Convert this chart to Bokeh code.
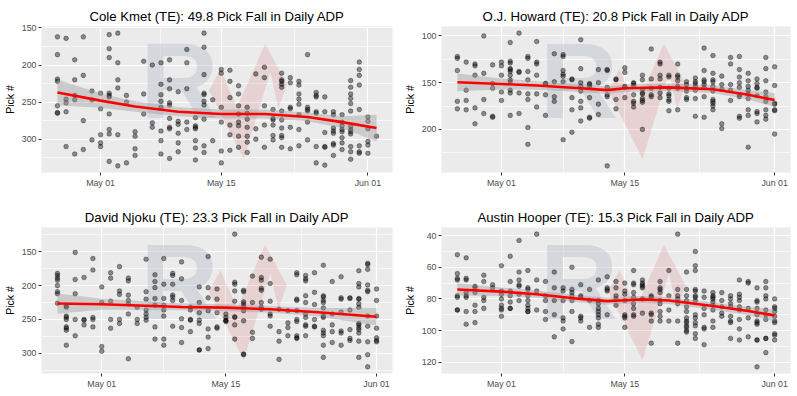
import datetime as dt
from bokeh.plotting import figure
from bokeh.models import Range1d, FixedTicker, DatetimeTickFormatter
from bokeh.layouts import gridplot
from bokeh.core.properties import value
from bokeh.embed import file_html
from bokeh.resources import INLINE

# ---------------- data ----------------
DATES = ["2020-04-26", "2020-04-27", "2020-04-28", "2020-04-29", "2020-04-30",
         "2020-05-01", "2020-05-02", "2020-05-03", "2020-05-04", "2020-05-05",
         "2020-05-06", "2020-05-07", "2020-05-08", "2020-05-09", "2020-05-10",
         "2020-05-11", "2020-05-12", "2020-05-13", "2020-05-14", "2020-05-15",
         "2020-05-16", "2020-05-17", "2020-05-18", "2020-05-19", "2020-05-20",
         "2020-05-21", "2020-05-22", "2020-05-23", "2020-05-24", "2020-05-25",
         "2020-05-26", "2020-05-27", "2020-05-28", "2020-05-29", "2020-05-30",
         "2020-05-31", "2020-06-01", "2020-06-02"]

TITLES = ["Cole Kmet (TE): 49.8 Pick Fall in Daily ADP",
          "O.J. Howard (TE): 20.8 Pick Fall in Daily ADP",
          "David Njoku (TE): 23.3 Pick Fall in Daily ADP",
          "Austin Hooper (TE): 15.3 Pick Fall in Daily ADP"]

kmet_picks = [
    [162, 186, 219, 222, 255, 264, 265], [164, 246, 251, 263, 310], [193, 220, 241, 247, 320],
    [162, 214, 275, 314], [235, 247, 301], [238, 259, 294, 305, 310],
    [159, 178, 190, 238, 241, 243, 266, 287, 293, 330], [157, 197, 220, 231, 294, 336],
    [241, 250, 332], [290, 296, 313, 322], [195, 239, 266], [200, 278, 284],
    [197, 226, 240, 249, 257, 289, 302, 320], [193, 220, 232, 251, 254, 272, 284, 286, 326],
    [236, 276, 280, 292, 305, 317], [179, 197, 232, 277, 287], [271, 282, 284, 286, 302, 312, 328],
    [157, 176, 213, 238, 240, 249, 254, 273, 309, 318], [247, 302], [206, 211, 257, 277, 316, 332],
    [207, 222, 244, 281, 294, 315], [228, 239, 255, 266, 277, 282, 296, 311],
    [257, 265, 273, 284, 296, 304, 318], [212, 286, 300], [203, 217, 255, 281, 311],
    [260, 272, 274, 281, 295, 301], [211, 220, 222, 226, 230, 262, 274, 285, 295, 298, 311],
    [217, 224, 257, 259, 284, 313], [222, 227, 239, 246, 253, 267, 287, 309],
    [186, 257, 260, 262, 277, 301], [237, 241, 243, 263, 265, 310, 332],
    [243, 263, 291, 310, 311, 335], [263, 267, 285, 289, 292, 306, 308, 322],
    [267, 277, 282, 287, 290, 298, 305, 314],
    [221, 230, 239, 245, 252, 262, 283, 287, 290, 293, 310, 317, 327],
    [196, 206, 214, 227, 260, 309, 317, 319], [270, 276, 286, 303, 308, 319], [296]]

howard_picks = [
    [122, 124, 137, 170, 178], [128, 158, 169, 179], [130, 132, 142, 177, 194], [100, 140, 168, 183],
    [131, 151, 156, 186, 187], [128, 132, 142, 160, 169],
    [107, 127, 129, 135, 136, 138, 142, 147, 149, 158, 161, 185], [97, 138, 139, 161, 183],
    [122, 124, 138, 147, 162, 168, 198, 216], [106, 128, 130, 142, 162, 176], [151, 151, 163, 185],
    [119, 149, 165, 170], [120, 122, 137, 141, 143, 149, 211], [146, 147, 166, 179, 203],
    [104, 135, 150, 154, 159, 170, 177, 191], [151, 152, 155, 166, 187, 188], [136, 150, 173, 184],
    [136, 137, 155, 163, 165, 239], [146, 147, 168, 178], [134, 139, 154, 155, 166],
    [150, 151, 153, 163, 170, 172, 176], [142, 147, 157, 161, 162, 167, 169, 171, 200],
    [114, 146, 156, 163, 165], [128, 130, 142, 146, 155, 161, 166],
    [142, 144, 156, 162, 164, 168, 170, 180], [130, 142, 144, 148, 154, 156, 179],
    [149, 152, 156, 159, 166, 168], [145, 149, 151, 154, 158, 167, 186],
    [113, 137, 147, 149, 152, 155, 165, 187], [121, 140, 147, 149, 154, 159, 168, 170, 172, 175, 179],
    [143, 152, 157, 194, 199], [123, 130, 152, 158, 169], [122, 136, 144, 150, 155, 163, 165, 186, 188],
    [140, 148, 154, 158, 162, 167, 179, 185, 219], [146, 151, 155, 156, 164, 181, 183, 192],
    [123, 135, 148, 160, 165, 170, 179, 185, 189], [133, 153, 172, 173, 179, 180, 205]]

njoku_picks = [
    [182, 185, 189, 192, 200, 209, 212, 226], [230, 232, 245, 247, 250, 261, 263, 266, 288],
    [151, 191, 212, 250, 274], [188, 250, 251, 258], [160, 177, 247, 250, 261], [202, 225, 290, 297],
    [181, 189, 223, 250, 263], [172, 208, 213, 250, 256], [189, 193, 214, 222, 227, 242, 308],
    [232, 250, 256], [161, 209, 220, 236, 242, 247, 251], [184, 194, 203, 219, 229, 261, 279],
    [160, 198, 219, 229, 236, 245, 279, 288], [182, 185, 198, 214, 217, 222, 260],
    [165, 190, 222, 249, 262, 284], [232, 236, 250, 251, 268], [202, 225, 240, 251, 256, 295, 295],
    [157, 203, 218, 237, 264, 276, 293], [205, 220, 240, 261, 263], [242, 247, 251, 252, 253],
    [124, 195, 198, 208, 223, 246, 247, 258, 279], [207, 209, 224, 227, 231, 237, 252, 301, 302],
    [186, 225, 269, 278], [158, 188, 192, 204, 207, 225, 232, 235], [161, 197, 223, 242, 245, 260],
    [235, 268, 282, 309], [237, 255, 262, 274], [181, 184, 220, 222, 237, 250, 253, 274, 277, 278],
    [185, 190, 193, 215, 225, 242, 247, 258, 260, 274], [181, 210, 228, 250, 260, 261],
    [170, 215, 217, 222, 225, 233, 245, 247, 266, 270, 274, 288, 306], [194, 242, 258, 268, 284],
    [187, 218, 220, 239, 267, 270, 288], [218, 219, 236, 265, 278, 281],
    [178, 197, 202, 219, 220, 227, 232, 256, 258, 262, 265, 270, 282, 306],
    [167, 169, 176, 199, 207, 209, 245, 260, 283, 302, 320], [205, 222, 245, 263, 277, 281, 283]]

hooper_picks = [
    [52, 64, 67, 68, 78, 79, 87, 87], [54, 67, 68, 76, 78, 79, 88, 96], [72, 73, 76, 84, 88, 95],
    [65, 69, 79, 81, 86], [71, 73], [59, 75, 77, 80, 84, 86, 87, 91], [53, 69, 75, 78, 82, 86, 86],
    [43, 63, 68, 71, 72, 77, 81], [62, 73, 74, 78, 81, 84, 86, 88, 88], [39, 68, 75, 87],
    [69, 78, 81, 88, 93], [63, 73, 81, 90, 104], [73, 75, 81, 92, 94, 99], [60, 74, 76, 78, 81, 88, 107],
    [71, 78, 79, 91, 92, 94], [74, 81, 98], [68, 81, 83, 86, 88, 90, 92, 96, 98], [66, 73, 74, 75, 90],
    [69, 73, 78, 80, 84], [70, 75, 77, 81, 90, 91, 92, 98], [62, 70, 71, 76, 79, 83, 86, 90, 91],
    [68, 70, 71, 72, 73, 80, 89], [78, 79, 89, 90, 94, 108], [69, 73, 74, 76, 81, 83, 88, 91, 94],
    [62, 78, 87, 94], [39, 74, 78, 80, 83, 94, 108], [63, 74, 78, 81, 85, 88, 92, 94, 95, 97, 98, 100, 101],
    [50, 59, 62, 74, 75, 78, 79, 81, 90, 92, 95, 97, 102, 105], [75, 79, 86, 90, 98, 99, 109],
    [76, 78, 79, 80, 82, 84, 87, 94, 98], [76, 81, 85, 89, 91], [78, 80, 83, 85, 91, 94, 95, 105],
    [68, 77, 79, 81, 85, 87, 93, 99, 106], [69, 70, 86, 92, 104],
    [73, 81, 82, 86, 90, 94, 95, 96, 106, 106, 123], [69, 73, 78, 80, 87, 90, 93, 105, 105, 114],
    [80, 85, 86, 88, 91, 94, 95, 102, 103, 106]]

# loess fit: dates, fitted pick, half-width of band
kmet_fit_dates = ["2020-04-26", "2020-05-01", "2020-05-05", "2020-05-10", "2020-05-15",
                  "2020-05-20", "2020-05-25", "2020-05-29", "2020-06-02"]
kmet_fit = [237, 248, 256, 263, 266, 266, 270, 277, 285]
kmet_se = [17.5, 9.5, 7, 6, 6, 6, 6, 8, 18]

howard_fit_dates = ["2020-04-26", "2020-05-01", "2020-05-05", "2020-05-10", "2020-05-13",
                    "2020-05-15", "2020-05-20", "2020-05-25", "2020-05-29", "2020-06-01"]
howard_fit = [149.6, 151.4, 153, 156, 158, 156, 155, 157, 163, 168.6]
howard_se = [9.5, 6, 4.5, 4, 4, 4, 4, 4, 5, 7.5]

njoku_fit_dates = ["2020-04-26", "2020-05-01", "2020-05-10", "2020-05-15", "2020-05-20",
                   "2020-05-25", "2020-06-01"]
njoku_fit = [226.5, 227.5, 231.5, 232.5, 235, 239, 246]
njoku_se = [15, 8, 5, 5, 5, 6, 13]

hooper_fit_dates = ["2020-04-26", "2020-05-01", "2020-05-05", "2020-05-10", "2020-05-13",
                    "2020-05-15", "2020-05-17", "2020-05-20", "2020-05-25", "2020-05-29", "2020-06-01"]
hooper_fit = [74, 75.4, 77, 80, 81.4, 80.8, 80.3, 81, 84.5, 87.7, 90.4]
hooper_se = [3.9, 2.7, 2.3, 2.2, 2.2, 2.2, 2.2, 2.2, 2.3, 2.7, 3.7]

Y_MAJOR = [[150, 200, 250, 300], [100, 150, 200], [150, 200, 250, 300], [40, 60, 80, 100, 120]]
Y_MINOR = [[175, 225, 275, 325], [125, 175, 225], [125, 175, 225, 275, 325], [50, 70, 90, 110]]
X_MAJOR = ["2020-05-01", "2020-05-15", "2020-06-01"]
X_MINOR = ["2020-04-24", "2020-05-08", "2020-05-23 12:00"]

# watermark logo shape (fractions of plot frame, from left / from top)
LOGO_V_FX = [0.477, 0.510, 0.557, 0.637, 0.699, 0.675, 0.652, 0.576]
LOGO_V_FY = [0.439, 0.291, 0.554, 0.119, 0.394, 0.565, 0.313, 0.908]
LOGO_R_FX, LOGO_R_FY = 0.282, 0.37

EPOCH = dt.datetime(1970, 1, 1)


def to_dt(s):
    fmt = "%Y-%m-%d %H:%M" if " " in s else "%Y-%m-%d"
    return dt.datetime.strptime(s, fmt)


def ms(s):
    return (to_dt(s) - EPOCH).total_seconds() * 1000.0


FONT = "Liberation Sans"


def make_panel(idx, picks, fdates, fit, se, width, height, bl, br, bt, bb, pad):
    xs, ys = [], []
    for d, vals in zip(DATES, picks):
        for v in vals:
            xs.append(to_dt(d))
            ys.append(v)
    xmin = ms(DATES[0])
    xmax = ms(DATES[len(picks) - 1])
    xpad = (xmax - xmin) * 0.05
    x0, x1 = xmin - xpad, xmax + xpad
    ymin, ymax = min(ys), max(ys)
    ypad = (ymax - ymin) * 0.05
    ytop, ybot = ymin - ypad, ymax + ypad

    p = figure(width=width, height=height, x_axis_type="datetime",
               x_range=Range1d(x0, x1), y_range=Range1d(ybot, ytop),
               output_backend="svg", toolbar_location=None,
               min_border_left=bl, min_border_right=br,
               min_border_top=bt, min_border_bottom=bb)
    p.background_fill_color = "#EBEBEB"
    p.border_fill_color = "white"
    p.outline_line_color = None

    p.title.text = TITLES[idx]
    p.title.align = "center"
    p.title.text_font = FONT
    p.title.text_font_size = "13.2px"
    p.title.text_font_style = "normal"
    p.title.text_color = "black"
    p.title.standoff = 0
    p.title.padding = pad

    xt = FixedTicker(ticks=[ms(d) for d in X_MAJOR], minor_ticks=[ms(d) for d in X_MINOR])
    yt = FixedTicker(ticks=Y_MAJOR[idx], minor_ticks=Y_MINOR[idx])
    p.xaxis.ticker = xt
    p.yaxis.ticker = yt
    p.xgrid.ticker = xt
    p.ygrid.ticker = yt
    fmt = "%b %d"
    p.xaxis.formatter = DatetimeTickFormatter(days=fmt, months=fmt, years=fmt, hours=fmt,
                                              minutes=fmt, seconds=fmt, milliseconds=fmt,
                                              microseconds=fmt, minsec=fmt, hourmin=fmt)
    for g in (p.xgrid, p.ygrid):
        g.grid_line_color = "white"
        g.grid_line_width = 1.2
        g.minor_grid_line_color = "white"
        g.minor_grid_line_width = 0.6
    for ax in (p.xaxis, p.yaxis):
        ax.axis_line_color = None
        ax.major_tick_line_color = "#333333"
        ax.major_tick_line_width = 1
        ax.major_tick_out = 3
        ax.major_tick_in = 0
        ax.minor_tick_out = 0
        ax.minor_tick_in = 0
        ax.major_label_text_font = FONT
        ax.major_label_text_font_size = "8.8px"
        ax.major_label_text_color = "#4D4D4D"
        ax.major_label_standoff = 2
    p.yaxis.axis_label = "Pick #"
    p.yaxis.axis_label_text_font = FONT
    p.yaxis.axis_label_text_font_size = "10.5px"
    p.yaxis.axis_label_text_font_style = "normal"
    p.yaxis.axis_label_text_color = "black"
    p.yaxis.axis_label_standoff = 3

    # watermark
    def fx(f):
        return x0 + f * (x1 - x0)

    def fy(f):
        return ytop + f * (ybot - ytop)

    p.text(x=[fx(LOGO_R_FX)], y=[fy(LOGO_R_FY)], text=["R"],
           text_font=value(FONT), text_font_style="bold", text_font_size="108px",
           text_color="#b8bec8", text_alpha=0.45, text_baseline="alphabetic", text_align="left")
    p.patch(x=[fx(f) for f in LOGO_V_FX], y=[fy(f) for f in LOGO_V_FY],
            fill_color="#d04040", fill_alpha=0.14, line_color=None)

    # points
    p.scatter(x=xs, y=ys, size=4.6, fill_color="black", fill_alpha=0.42,
              line_color="black", line_alpha=0.58, line_width=0.6)

    # smooth
    fx_d = [to_dt(d) for d in fdates]
    lo = [f - s for f, s in zip(fit, se)]
    hi = [f + s for f, s in zip(fit, se)]
    p.varea(x=fx_d, y1=lo, y2=hi, fill_color="#999999", fill_alpha=0.4)
    p.line(x=fx_d, y=fit, line_color="red", line_width=2.6)
    return p


p1 = make_panel(0, kmet_picks, kmet_fit_dates, kmet_fit, kmet_se, 400, 200, 36, 8, 26, 28, 3)
p2 = make_panel(1, howard_picks, howard_fit_dates, howard_fit, howard_se, 397, 200, 36, 7, 26, 28, 3)
p3 = make_panel(2, njoku_picks, njoku_fit_dates, njoku_fit, njoku_se, 400, 196, 36, 8, 27, 23, 3)
p4 = make_panel(3, hooper_picks, hooper_fit_dates, hooper_fit, hooper_se, 397, 196, 36, 7, 27, 23, 3)

grid = gridplot([[p1, p2], [p3, p4]], toolbar_location=None)
open("out.html", "w").write(file_html(grid, INLINE))
